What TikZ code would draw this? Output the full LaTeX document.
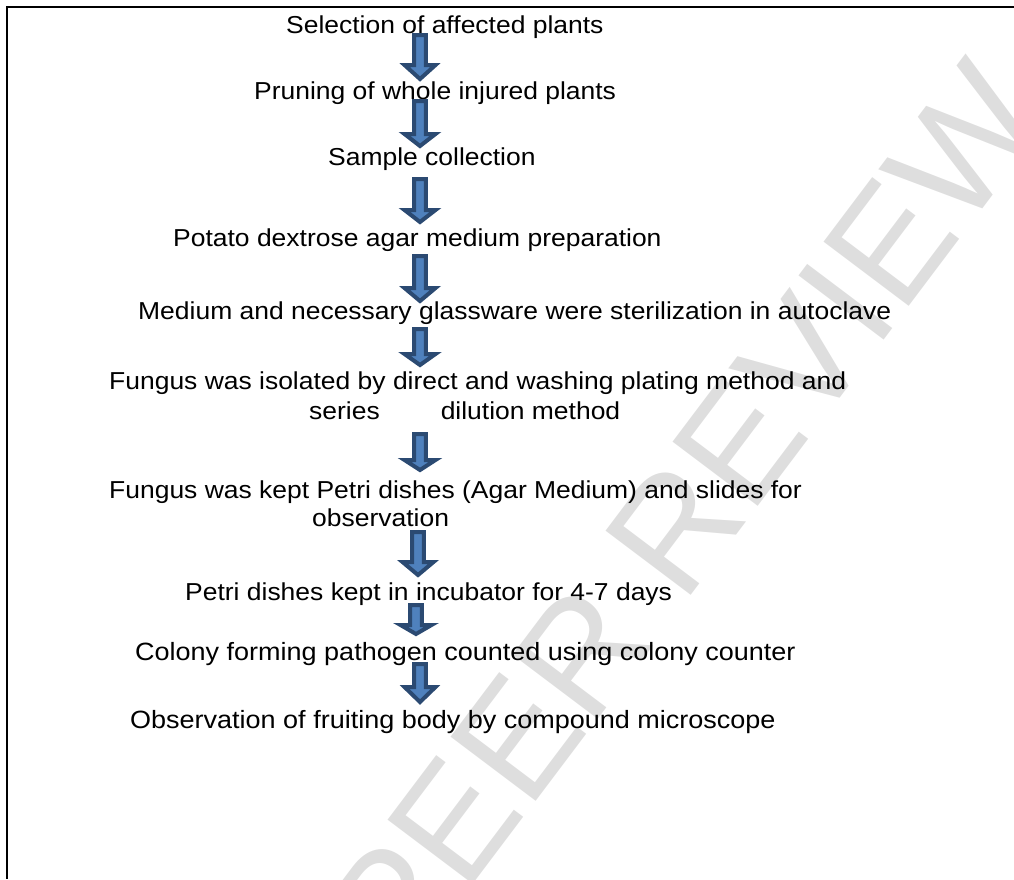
\documentclass[tikz,border=0pt]{standalone}
\usepackage{fontspec}
\setmainfont{Liberation Sans}[FakeStretch=1.08]
\newfontfamily\wmfont{Liberation Sans}
\definecolor{arrfill}{HTML}{4F81BD}
\definecolor{arrline}{HTML}{2B4A72}
\definecolor{wmgray}{HTML}{DEDEDE}
\tikzset{
  steptext/.style={anchor=base west, inner sep=0pt, font=\fontsize{24.5}{29}\selectfont, text=black},
  bigtext/.style={steptext, font=\fontsize{25}{29}\selectfont},
  blockarr/.style={fill=arrfill, draw=arrline, line width=4pt, line join=miter},
  frameline/.style={draw=black, line width=2pt},
  watermark/.style={font=\wmfont\fontsize{155}{155}\selectfont, text=wmgray, rotate=53, inner sep=0pt}
}
% x = centre, #2 = outer top, #3 = head start, #4 = outer tip
\newcommand\barrow[4]{%
  \draw[blockarr] (#1-5.8,#2+2) -- (#1+5.8,#2+2) -- (#1+5.8,#3+2) -- (#1+15.5,#3+2)
    -- (#1,#4-3) -- (#1-15.5,#3+2) -- (#1-5.8,#3+2) -- cycle;}
\begin{document}
\begin{tikzpicture}[x=1pt,y=-1pt]
\useasboundingbox (0,0) rectangle (1014,879);
\node[watermark] (wm) at (685,515) {PEER REVIEW};
\coordinate (fr1) at (1014,7);
\coordinate (fr2) at (7,7);
\coordinate (fr3) at (7,879);
\draw[frameline] (fr1) -- (fr2) -- (fr3);

\node[steptext] (t1) at (286,33) {Selection of affected plants};
\node[steptext] (t2) at (254,99) {Pruning of whole injured plants};
\node[steptext] (t3) at (328,165) {Sample collection};
\node[steptext] (t4) at (173,246) {Potato dextrose agar medium preparation};
\node[steptext] (t5) at (138,319) {Medium and necessary glassware were sterilization in autoclave};
\node[steptext] (t6) at (109,389) {Fungus was isolated by direct and washing plating method and};
\node[steptext] (t7) at (309,419) {series\hspace{61pt}dilution method};
\node[steptext] (t8) at (109,498) {Fungus was kept Petri dishes (Agar Medium) and slides for};
\node[steptext] (t9) at (312,526) {observation};
\node[steptext] (t10) at (185,600) {Petri dishes kept in incubator for 4-7 days};
\node[bigtext] (t11) at (135,660) {Colony forming pathogen counted using colony counter};
\node[bigtext] (t12) at (130,728) {Observation of fruiting body by compound microscope};

\barrow{420}{33}{63}{82}
\barrow{420}{99}{132}{149}
\barrow{420}{177}{208}{225}
\barrow{420}{254}{286}{304}
\barrow{420}{327}{352}{368}
\barrow{420}{432}{458}{473}
\barrow{418}{530}{560}{578}
\barrow{416}{603}{623}{637}
\barrow{420}{662}{685}{705}
\end{tikzpicture}
\end{document}
